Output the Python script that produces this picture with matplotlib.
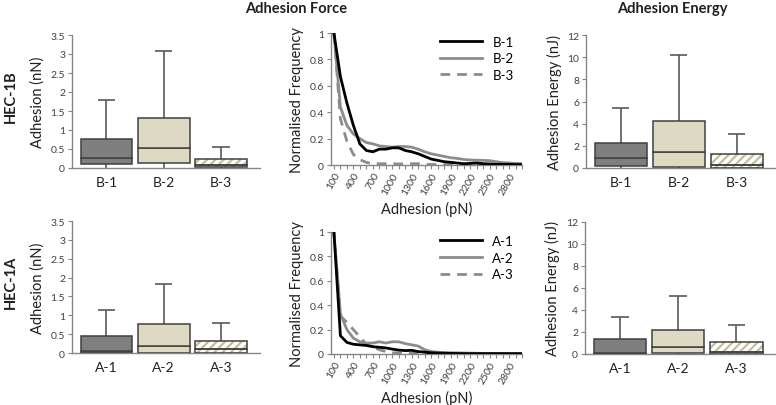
import matplotlib
matplotlib.use("Agg")
import matplotlib.pyplot as plt
import numpy as np

plt.rcParams['font.family'] = ['Lato', 'DejaVu Sans']
plt.rcParams['hatch.linewidth'] = 1.6

# ---------------- data ----------------
cats_B = ["B-1", "B-2", "B-3"]
cats_A = ["A-1", "A-2", "A-3"]

# adhesion force box stats (nN): min, q1, median, q3, max
forceB_min = [0.0, 0.0, 0.0]
forceB_q1 = [0.10, 0.12, 0.02]
forceB_med = [0.27, 0.53, 0.08]
forceB_q3 = [0.77, 1.32, 0.23]
forceB_max = [1.78, 3.07, 0.55]

forceA_min = [0.0, 0.0, 0.0]
forceA_q1 = [0.01, 0.01, 0.0]
forceA_med = [0.06, 0.18, 0.10]
forceA_q3 = [0.44, 0.77, 0.33]
forceA_max = [1.13, 1.84, 0.79]

# adhesion energy box stats (nJ)
energyB_min = [0.0, 0.0, 0.0]
energyB_q1 = [0.15, 0.05, 0.0]
energyB_med = [0.90, 1.45, 0.30]
energyB_q3 = [2.30, 4.20, 1.30]
energyB_max = [5.45, 10.2, 3.10]

energyA_min = [0.0, 0.0, 0.0]
energyA_q1 = [0.0, 0.05, 0.0]
energyA_med = [0.05, 0.60, 0.20]
energyA_q3 = [1.35, 2.15, 1.05]
energyA_max = [3.40, 5.30, 2.60]

# normalised frequency distributions
adhesion_pN = list(range(100, 3100, 100))
freq_B1 = [1.0, 0.67, 0.47, 0.30, 0.16, 0.11, 0.10, 0.12, 0.12, 0.13,
           0.13, 0.11, 0.10, 0.085, 0.065, 0.045, 0.035, 0.025, 0.02, 0.015,
           0.01, 0.012, 0.015, 0.01, 0.008, 0.005, 0.005, 0.005, 0.003, 0.003]
freq_B2 = [1.0, 0.44, 0.30, 0.235, 0.20, 0.17, 0.16, 0.145, 0.14, 0.135,
           0.14, 0.14, 0.135, 0.12, 0.10, 0.085, 0.075, 0.065, 0.055, 0.05,
           0.042, 0.038, 0.036, 0.035, 0.033, 0.025, 0.018, 0.015, 0.012, 0.01]
freq_B3 = [1.0, 0.35, 0.18, 0.08, 0.04, 0.02, 0.01, 0.01, 0.01, 0.01,
           0.008, 0.008, 0.01, 0.01, 0.005, 0.004, 0.003, 0.003, 0.002, 0.002,
           0.002, 0.002, 0.002, 0.002, 0.002, 0.002, 0.002, 0.002, 0.002, 0.002]
freq_A1 = [1.0, 0.15, 0.095, 0.08, 0.075, 0.07, 0.06, 0.055, 0.05, 0.04,
           0.032, 0.028, 0.03, 0.02, 0.015, 0.01, 0.008, 0.006, 0.005, 0.004,
           0.003, 0.003, 0.003, 0.003, 0.003, 0.003, 0.003, 0.003, 0.003, 0.003]
freq_A2 = [1.0, 0.33, 0.20, 0.13, 0.10, 0.09, 0.09, 0.10, 0.09, 0.10,
           0.10, 0.085, 0.075, 0.065, 0.035, 0.02, 0.015, 0.012, 0.01, 0.01,
           0.008, 0.007, 0.006, 0.005, 0.005, 0.005, 0.004, 0.004, 0.004, 0.003]
freq_A3 = [1.0, 0.31, 0.26, 0.20, 0.14, 0.08, 0.06, 0.035, 0.02, 0.01,
           0.008, 0.006, 0.005, 0.004, 0.003, 0.003, 0.002, 0.002, 0.002, 0.002,
           0.002, 0.002, 0.002, 0.002, 0.002, 0.002, 0.002, 0.002, 0.002, 0.002]

# ---------------- style ----------------
fills = ["#7f7f7f", "#ddd9c3", "white"]
hatch_col = "#c4bd97"
edge = "#404040"
spine_col = "#868686"
tick_col = "#404040"

W, H = 776, 406
fig = plt.figure(figsize=(W / 100, H / 100), dpi=100)


def ax_at(l, r, t, b):
    return fig.add_axes([l / W, 1 - b / H, (r - l) / W, (b - t) / H])


def style(ax):
    for s in ["top", "right"]:
        ax.spines[s].set_visible(False)
    for s in ["left", "bottom"]:
        ax.spines[s].set_color(spine_col)
        ax.spines[s].set_linewidth(1.0)
    ax.tick_params(axis="y", colors=spine_col, labelcolor=tick_col,
                   labelsize=7.5, length=3, width=0.8, pad=2)


def boxes(ax, cats, mins, q1, med, q3, mx, ymax, ystep, ylabel):
    x = np.arange(len(cats))
    w = 0.9
    for i in range(len(cats)):
        if i == 2:
            for lo, hi in [(q1[i], med[i]), (med[i], q3[i])]:
                ax.bar(x[i], hi - lo, bottom=lo, width=w, color="white",
                       hatch="////", edgecolor=hatch_col, linewidth=0, zorder=2)
                ax.bar(x[i], hi - lo, bottom=lo, width=w, fill=False,
                       edgecolor=edge, linewidth=1.1, zorder=3)
        else:
            for lo, hi in [(q1[i], med[i]), (med[i], q3[i])]:
                ax.bar(x[i], hi - lo, bottom=lo, width=w, color=fills[i],
                       edgecolor=edge, linewidth=1.1, zorder=3)
    ax.vlines(x, q3, mx, color="#595959", linewidth=1.2, zorder=2)
    ax.hlines(mx, x - 0.15, x + 0.15, color="#595959", linewidth=1.2, zorder=2)
    ax.vlines(x, mins, q1, color="#595959", linewidth=1.2, zorder=2)
    ax.set_xlim(-0.6, len(cats) - 0.32)
    ax.set_ylim(0, ymax)
    ticks = np.arange(0, ymax + ystep / 2, ystep)
    ax.set_yticks(ticks)
    ax.set_yticklabels(["%g" % t for t in ticks])
    ax.set_xticks(x)
    ax.set_xticklabels(cats)
    ax.tick_params(axis="x", length=0, labelsize=10, labelcolor="#202020", pad=6)
    ax.set_ylabel(ylabel, fontsize=10.5, color="#202020", labelpad=4)
    style(ax)


def lines(ax, ys, labels):
    x = np.arange(len(adhesion_pN))
    ax.plot(x, ys[2], color="#8c8c8c", linewidth=2.0, linestyle=(0, (3.5, 2.5)),
            label=labels[2], zorder=2)
    ax.plot(x, ys[1], color="#8c8c8c", linewidth=2.0, label=labels[1], zorder=3)
    ax.plot(x, ys[0], color="black", linewidth=2.0, label=labels[0], zorder=4)
    ax.set_xlim(-0.45, len(x) - 1)
    ax.set_ylim(0, 1)
    ax.set_yticks([0, 0.2, 0.4, 0.6, 0.8, 1.0])
    ax.set_yticklabels(["0", "0.2", "0.4", "0.6", "0.8", "1"])
    ax.set_xticks(x)
    ax.set_xticklabels([str(v) if (v - 100) % 300 == 0 else "" for v in adhesion_pN],
                       rotation=60, ha="right", rotation_mode="anchor")
    ax.tick_params(axis="x", colors=spine_col, labelcolor=tick_col, labelsize=7.5,
                   length=3, width=0.8, pad=1)
    ax.set_ylabel("Normalised Frequency", fontsize=10.5, color="#202020", labelpad=4)
    ax.set_xlabel("Adhesion (pN)", fontsize=10.5, color="#202020", labelpad=4)
    style(ax)
    h, l = ax.get_legend_handles_labels()
    order = [l.index(s) for s in labels]
    ax.legend([h[i] for i in order], [l[i] for i in order], loc="upper right",
              frameon=False, fontsize=9.5, handlelength=3.2, labelspacing=0.35,
              bbox_to_anchor=(1.0, 1.04), borderaxespad=0.2)


# top row (HEC-1B)
a1 = ax_at(72, 260, 36, 169)
boxes(a1, cats_B, forceB_min, forceB_q1, forceB_med, forceB_q3, forceB_max,
      3.5, 0.5, "Adhesion (nN)")
a2 = ax_at(331, 522, 34, 166)
lines(a2, [freq_B1, freq_B2, freq_B3], cats_B)
a3 = ax_at(586, 776, 36, 169)
boxes(a3, cats_B, energyB_min, energyB_q1, energyB_med, energyB_q3, energyB_max,
      12, 2, "Adhesion Energy (nJ)")

# bottom row (HEC-1A)
b1 = ax_at(72, 260, 222, 354)
boxes(b1, cats_A, forceA_min, forceA_q1, forceA_med, forceA_q3, forceA_max,
      3.5, 0.5, "Adhesion (nN)")
b2 = ax_at(331, 522, 233, 355)
lines(b2, [freq_A1, freq_A2, freq_A3], cats_A)
b3 = ax_at(585, 776, 223, 355)
boxes(b3, cats_A, energyA_min, energyA_q1, energyA_med, energyA_q3, energyA_max,
      12, 2, "Adhesion Energy (nJ)")

fig.text(296 / W, 1 - 9 / H, "Adhesion Force", fontsize=10.5, fontweight="bold",
         ha="center", va="center", color="#202020")
fig.text(672 / W, 1 - 9 / H, "Adhesion Energy", fontsize=10.5, fontweight="bold",
         ha="center", va="center", color="#202020")
fig.text(11 / W, 1 - 97 / H, "HEC-1B", fontsize=10.5, fontweight="bold",
         rotation=90, ha="center", va="center", color="#202020")
fig.text(11 / W, 1 - 282 / H, "HEC-1A", fontsize=10.5, fontweight="bold",
         rotation=90, ha="center", va="center", color="#202020")

fig.savefig("out.png", dpi=100)
